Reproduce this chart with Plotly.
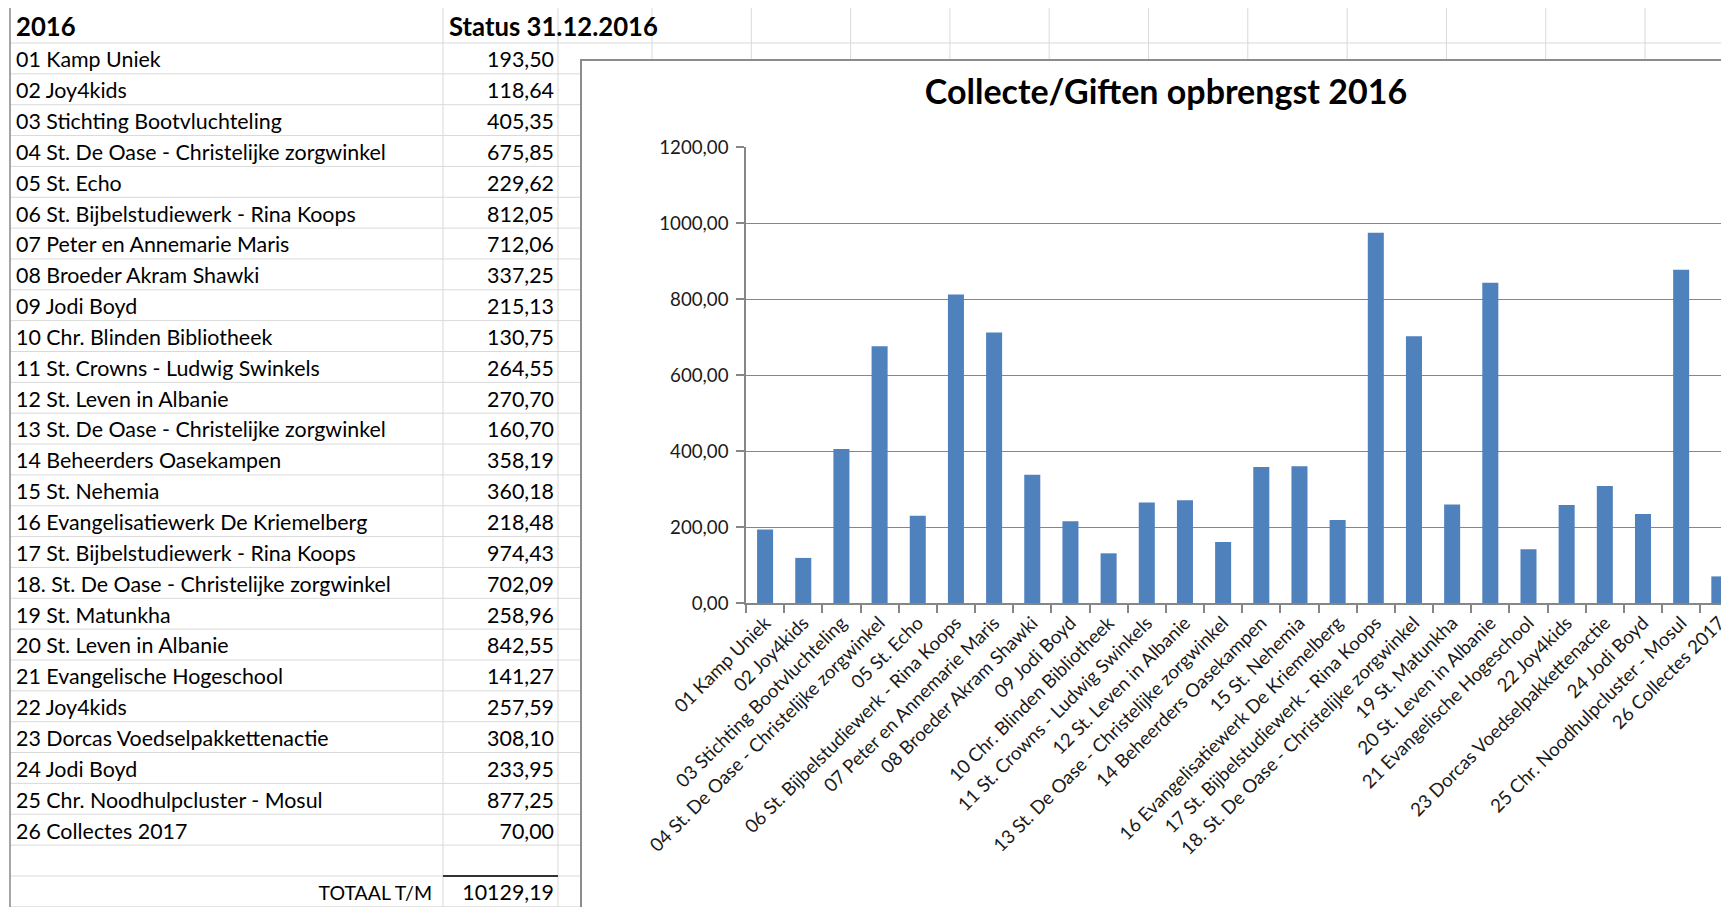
import plotly.graph_objects as go

# ---------------- data ----------------
labels = [
    "01 Kamp Uniek", "02 Joy4kids", "03 Stichting Bootvluchteling",
    "04 St. De Oase - Christelijke zorgwinkel", "05 St. Echo",
    "06 St. Bijbelstudiewerk - Rina Koops", "07 Peter en Annemarie Maris",
    "08 Broeder Akram Shawki", "09 Jodi Boyd", "10 Chr. Blinden Bibliotheek",
    "11 St. Crowns - Ludwig Swinkels", "12 St. Leven in Albanie",
    "13 St. De Oase - Christelijke zorgwinkel", "14 Beheerders Oasekampen",
    "15 St. Nehemia", "16 Evangelisatiewerk De Kriemelberg",
    "17 St. Bijbelstudiewerk - Rina Koops",
    "18. St. De Oase - Christelijke zorgwinkel", "19 St. Matunkha",
    "20 St. Leven in Albanie", "21 Evangelische Hogeschool", "22 Joy4kids",
    "23 Dorcas Voedselpakkettenactie", "24 Jodi Boyd",
    "25 Chr. Noodhulpcluster - Mosul", "26 Collectes 2017",
]
values = [193.50, 118.64, 405.35, 675.85, 229.62, 812.05, 712.06, 337.25,
          215.13, 130.75, 264.55, 270.70, 160.70, 358.19, 360.18, 218.48,
          974.43, 702.09, 258.96, 842.55, 141.27, 257.59, 308.10, 233.95,
          877.25, 70.00]
header_left = "2016"
header_right = "Status 31.12.2016"
total_label = "TOTAAL T/M"
chart_title = "Collecte/Giften opbrengst 2016"
y_ticks = [0, 200, 400, 600, 800, 1000, 1200]

# ---------------- layout constants (page pixels) ----------------
W, H = 1729, 907
OFF = 8                      # default page margin of the html body
TOP, HEAD_B, ROW_H = 5, 43, 30.85
LEFT, COL1, COL2 = 10, 443, 558
SHEET_COL0, SHEET_COL_W = 652, 99.3
FRAME_X, FRAME_Y = 581, 60
PLOT_L, PLOT_T, PLOT_B = 746, 147, 603
CAT_W = 38.17
TEXT_DY = 3.5                # cell text sits a little low (bottom aligned)
GRID = "#d9d9d9"
AXC = "#868686"
FONT = "Lato"


def fmt(v):
    return f"{v:.2f}".replace(".", ",")


def px_x(p):
    return (p - OFF) / W


def px_y(p):
    return 1 - (p - OFF) / H


n = len(labels)
row_centers = [HEAD_B + (i + 0.5) * ROW_H + TEXT_DY for i in range(n)]
total_center = HEAD_B + (n + 1.5) * ROW_H + TEXT_DY

fig = go.Figure()

# ---------- spreadsheet table (background axis in page pixel units) ----------
fig.add_trace(go.Scatter(
    x=[LEFT + 6] * n, y=row_centers, text=labels, mode="text",
    textposition="middle right", xaxis="x", yaxis="y",
    textfont=dict(family=FONT, size=21.4, color="#000000"),
    hoverinfo="skip", showlegend=False, cliponaxis=False))
fig.add_trace(go.Scatter(
    x=[COL2 - 4] * n, y=row_centers, text=[fmt(v) for v in values],
    mode="text", textposition="middle left", xaxis="x", yaxis="y",
    textfont=dict(family=FONT, size=21.4, color="#000000"),
    hoverinfo="skip", showlegend=False, cliponaxis=False))
fig.add_trace(go.Scatter(
    x=[LEFT + 6, COL1 + 6], y=[(TOP + HEAD_B) / 2 + 6] * 2,
    text=[f"<b>{header_left}</b>", f"<b>{header_right}</b>"],
    mode="text", textposition="middle right", xaxis="x", yaxis="y",
    textfont=dict(family=FONT, size=25.7, color="#000000"),
    hoverinfo="skip", showlegend=False, cliponaxis=False))
fig.add_trace(go.Scatter(
    x=[COL1 - 11], y=[total_center], text=[total_label],
    mode="text", textposition="middle left", xaxis="x", yaxis="y",
    textfont=dict(family=FONT, size=19.5, color="#000000"),
    hoverinfo="skip", showlegend=False, cliponaxis=False))
fig.add_trace(go.Scatter(
    x=[COL2 - 4], y=[total_center], text=[fmt(round(sum(values), 2))],
    mode="text", textposition="middle left", xaxis="x", yaxis="y",
    textfont=dict(family=FONT, size=21.4, color="#000000"),
    hoverinfo="skip", showlegend=False, cliponaxis=False))

# ---------- bar chart ----------
fig.add_trace(go.Bar(
    x=labels, y=values, xaxis="x2", yaxis="y2",
    marker=dict(color="#4F81BD", line=dict(width=0)),
    hoverinfo="skip", showlegend=False))

# ---------- decorative sheet grid & chart frame ----------
shapes = []
for k in range(0, n + 3):
    yv = HEAD_B + k * ROW_H
    shapes.append(dict(type="line", xref="x", yref="y", x0=LEFT, x1=W + OFF,
                       y0=yv, y1=yv, line=dict(color=GRID, width=1),
                       layer="below"))
col_lines = [COL1, COL2]
c = SHEET_COL0
while c < W + OFF:
    col_lines.append(c)
    c += SHEET_COL_W
for xv in col_lines:
    shapes.append(dict(type="line", xref="x", yref="y", x0=xv, x1=xv,
                       y0=TOP, y1=H + OFF, line=dict(color=GRID, width=1),
                       layer="below"))
# outer borders
shapes.append(dict(type="line", xref="x", yref="y", x0=LEFT, x1=W + OFF,
                   y0=TOP, y1=TOP, line=dict(color="#a6a6a6", width=2),
                   layer="below"))
shapes.append(dict(type="line", xref="x", yref="y", x0=LEFT, x1=LEFT,
                   y0=TOP, y1=H + OFF, line=dict(color="#a6a6a6", width=2),
                   layer="below"))
# total top border
ty = HEAD_B + (n + 1) * ROW_H
shapes.append(dict(type="line", xref="x", yref="y", x0=COL1, x1=COL2,
                   y0=ty, y1=ty, line=dict(color="#333333", width=2),
                   layer="below"))
# chart frame
shapes.append(dict(type="rect", xref="x", yref="y", x0=FRAME_X,
                   x1=W + OFF + 20, y0=FRAME_Y, y1=H + OFF + 20,
                   fillcolor="#ffffff", line=dict(color="#8c8c8c", width=2),
                   layer="below"))

x_max = -0.5 + (W + OFF - PLOT_L) / CAT_W

fig.update_layout(
    template="none",
    width=W, height=H,
    margin=dict(l=0, r=0, t=0, b=0, pad=0, autoexpand=False),
    paper_bgcolor="#ffffff", plot_bgcolor="rgba(0,0,0,0)",
    separators=",.",
    shapes=shapes,
    bargap=0.58,
    showlegend=False,
    title=dict(text=f"<b>{chart_title}</b>", x=px_x(1166), y=px_y(92),
               xref="paper", yref="paper", xanchor="center",
               yanchor="middle",
               font=dict(family=FONT, size=34, color="#000000")),
    xaxis=dict(domain=[0, 1], range=[OFF, W + OFF], visible=False,
               fixedrange=True, automargin=False),
    yaxis=dict(domain=[0, 1], range=[H + OFF, OFF], visible=False,
               fixedrange=True, automargin=False),
    xaxis2=dict(domain=[px_x(PLOT_L), 1], anchor="y2", type="category",
                range=[-0.5, x_max], tickson="boundaries", ticks="outside",
                ticklen=8, tickcolor=AXC, tickwidth=1.5,
                showline=True, linecolor=AXC, linewidth=1.5,
                showgrid=False, zeroline=False, tickangle=-45,
                automargin=False,
                tickfont=dict(family=FONT, size=18.7, color="#1a1a1a"),
                fixedrange=True),
    yaxis2=dict(domain=[px_y(PLOT_B), px_y(PLOT_T)], anchor="x2",
                range=[0, 1200], tickvals=y_ticks, tickformat=".2f",
                showgrid=True, gridcolor=AXC, gridwidth=1.3,
                showline=True, linecolor=AXC, linewidth=1.5,
                ticks="outside", ticklen=8, tickcolor=AXC,
                tickwidth=1.5, zeroline=False, ticklabelstandoff=4,
                automargin=False,
                tickfont=dict(family=FONT, size=18.7, color="#1a1a1a"),
                fixedrange=True),
)

fig.write_html("out.html")
